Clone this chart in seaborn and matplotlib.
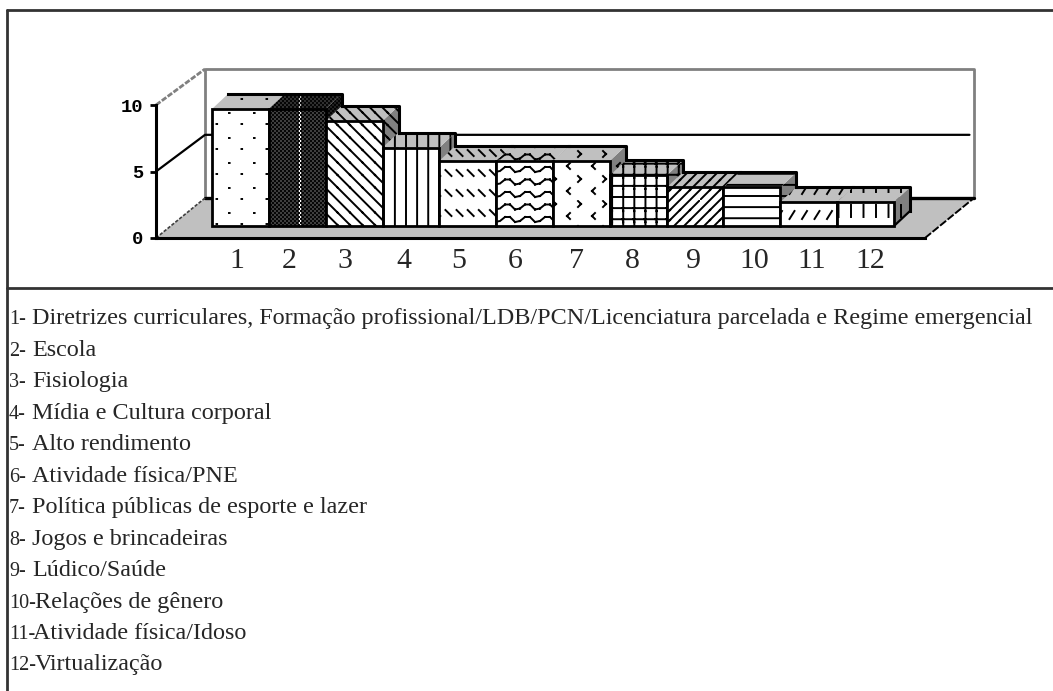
import numpy as np
import pandas as pd
import seaborn as sns
import matplotlib
matplotlib.use("Agg")
import matplotlib.pyplot as plt
from matplotlib import hatch as mhatch
from matplotlib.path import Path
import warnings

warnings.filterwarnings("ignore")

# --------------------------------------
# Data
# --------------------------------------
categories = ["1", "2", "3", "4", "5", "6", "7", "8", "9", "10", "11", "12"]
values = [8.8, 8.8, 7.9, 5.9, 4.9, 4.9, 4.9, 3.8, 2.9, 2.9, 1.8, 1.8]
y_ticks = [0, 5, 10]
legend_numbers = ["1-", "2-", "3-", "4-", "5-", "6-", "7-", "8-", "9-", "10-", "11-", "12-"]
legend_names = [
    "Diretrizes curriculares, Formação profissional/LDB/PCN/Licenciatura parcelada e Regime emergencial",
    "Escola",
    "Fisiologia",
    "Mídia e Cultura corporal",
    "Alto rendimento",
    "Atividade física/PNE",
    "Política públicas de esporte e lazer",
    "Jogos e brincadeiras",
    "Lúdico/Saúde",
    "Relações de gênero",
    "Atividade física/Idoso",
    "Virtualização",
]

# --------------------------------------
# Custom hatches (the old Excel fill patterns)
# tile sizes in pixels, must divide 100 because the hatch tile is 1 inch at dpi 100
# --------------------------------------
DOT = 0.6
TILES = {
    "a": (25, 25, [[(4, 12), (4 + DOT, 12)], [(16.5, 1), (16.5 + DOT, 1)]]),
    "b": (4, 4, [[(0.2, 1), (1.8, 1)], [(2.2, 3), (3.8, 3)]]),
    "c": (12.5, 12.5, [[(0, 12.5), (12.5, 0)]]),
    "d": (100 / 9, 100, [[(6, 0), (6, 100)]]),
    "e": (100 / 9, 20, [[(1, 10), (7, 4)]]),
    "f": (20, 12.5, [[(0, 4), (5, 8), (10, 8), (15, 3), (20, 4)]]),
    "g": (25, 25, [[(3, 24), (6, 21), (3, 18)], [(20, 12), (17, 9), (20, 6)]]),
    "h": (100 / 9, 100 / 9, [[(1, 0), (1, 100 / 9)], [(0, 3), (100 / 9, 3)]]),
    "i": (10, 10, [[(0, 0), (10, 10)]]),
    "j": (100, 100 / 9, [[(0, 4), (100, 4)]]),
    "k": (12.5, 25, [[(2, 6), (7, 14)]]),
    "l": (12.5, 25, [[(1, 8), (1, 20)]]),
}
bar_hatches = list("abcdefghijkl")


class TileHatch(mhatch.HatchPatternBase):
    def __init__(self, hatch, density):
        self.segs = []
        for ch in hatch:
            if ch not in TILES:
                continue
            w, h, lines = TILES[ch]
            for i in range(int(round(100 / w))):
                for j in range(int(round(100 / h))):
                    for line in lines:
                        for a, b in zip(line[:-1], line[1:]):
                            self.segs.append(((a[0] + i * w) / 100, (a[1] + j * h) / 100))
                            self.segs.append(((b[0] + i * w) / 100, (b[1] + j * h) / 100))
        self.num_vertices = len(self.segs)

    def set_vertices_and_codes(self, vertices, codes):
        vertices[:] = self.segs
        codes[0::2] = Path.MOVETO
        codes[1::2] = Path.LINETO


mhatch._hatch_types.append(TileHatch)

# --------------------------------------
# Layout
# --------------------------------------
W, H = 1053, 691
AX_L, AX_R, AX_T, AX_B = 156, 925, 105, 238   # pixels of the front axes
BAR_W = 56.8
PX_Y = (AX_B - AX_T) / 10
XMIN = -0.5 - (212 - AX_L) / BAR_W
XMAX = 11.5 + (AX_R - 894) / BAR_W
FLOOR_DX, FLOOR_DY = 49 / BAR_W, 40 / PX_Y     # depth of floor and walls
BAR_DX, BAR_DY = 16 / BAR_W, 15 / PX_Y         # depth of one bar
BAR_BASE = 12 / PX_Y                           # bars stand a little behind the front edge
WALL_TOP = 9.7
WALL_MID = 4.75
LIGHT = "#c0c0c0"
DARK = "#808080"
INK = "#262626"

sns.set_theme(style="white")
plt.rcParams["font.family"] = ["Liberation Serif", "DejaVu Serif"]
plt.rcParams["hatch.linewidth"] = 1.4
plt.rcParams["hatch.color"] = "black"

fig = plt.figure(figsize=(W / 100, H / 100), dpi=100)
ax = fig.add_axes([AX_L / W, 1 - AX_B / H, (AX_R - AX_L) / W, (AX_B - AX_T) / H])

df = pd.DataFrame({"cat": categories, "val": values})

# floor and walls
top = WALL_TOP + FLOOR_DY
mid = WALL_MID + FLOOR_DY
ax.fill([XMIN, XMIN + FLOOR_DX, XMAX + FLOOR_DX, XMAX], [0, FLOOR_DY, FLOOR_DY, 0],
        color=LIGHT, lw=0, zorder=1, clip_on=False)
ax.plot([XMIN + FLOOR_DX, XMIN + FLOOR_DX, XMAX + FLOOR_DX, XMAX + FLOOR_DX],
        [FLOOR_DY, top, top, FLOOR_DY], color=DARK, lw=2, zorder=1.2, clip_on=False)
ax.plot([XMIN + FLOOR_DX, XMAX + FLOOR_DX], [FLOOR_DY, FLOOR_DY], color="black", lw=2.4,
        zorder=1.3, clip_on=False)
ax.plot([XMIN, XMIN + FLOOR_DX], [10, top], color=DARK, lw=2, ls=(0, (2, 0.6)), zorder=1.1, clip_on=False)
ax.plot([XMIN, XMIN + FLOOR_DX, XMAX + FLOOR_DX - 0.08], [5, mid, mid],
        color="black", lw=1.6, zorder=1.3, clip_on=False)
ax.plot([XMIN, XMIN + FLOOR_DX], [0, FLOOR_DY], color="#404040", lw=1.2, ls=(0, (2, 1)), zorder=1.3, clip_on=False)
ax.plot([XMAX, XMAX + FLOOR_DX], [0, FLOOR_DY], color="black", lw=1.4, ls=(0, (4, 1)), zorder=1.3, clip_on=False)

# top and side faces, left to right
for i, v in enumerate(values):
    x0, x1 = i - 0.5, i + 0.5
    y0, y1 = BAR_BASE, BAR_BASE + v
    ax.fill([x1, x1 + BAR_DX, x1 + BAR_DX, x1], [y0, y0 + BAR_DY, y1 + BAR_DY, y1],
            facecolor=DARK, edgecolor="black", hatch=bar_hatches[i], lw=0, zorder=2, clip_on=False)
    ax.fill([x0, x0 + BAR_DX, x1 + BAR_DX, x1], [y1, y1 + BAR_DY, y1 + BAR_DY, y1],
            facecolor=LIGHT, edgecolor="black", hatch=bar_hatches[i], lw=0, zorder=2, clip_on=False)
    # back edge of the top, and the part of the right edge that the next bar does not hide
    next_top = BAR_BASE + values[i + 1] if i + 1 < len(values) else y0
    ax.plot([x0 + BAR_DX, x1 + BAR_DX, x1 + BAR_DX], [y1 + BAR_DY, y1 + BAR_DY, next_top + BAR_DY],
            color="black", lw=2.2, zorder=2.2, clip_on=False, solid_capstyle="projecting")

ax.plot([11.5, 11.5 + BAR_DX], [BAR_BASE, BAR_BASE + BAR_DY], color="black", lw=1.6, zorder=2.2, clip_on=False)

# front faces
sns.barplot(data=df, x="cat", y="val", order=categories, width=1.0, color="white",
            edgecolor="black", linewidth=2, saturation=1, bottom=BAR_BASE, ax=ax, zorder=3)
for patch, h in zip(ax.patches[-len(values):], bar_hatches):
    patch.set_hatch(h)
    patch.set_clip_on(False)

ax.set_xlim(XMIN, XMAX)
ax.set_ylim(0, 10)
ax.set_xlabel("")
ax.set_ylabel("")
ax.patch.set_alpha(0)
sns.despine(ax=ax)
for side in ["left", "bottom"]:
    ax.spines[side].set_linewidth(2.2)
    ax.spines[side].set_color("black")
    ax.spines[side].set_zorder(4)

# number labels are not quite centred under the bars in the original
nudge = np.array([-4, -8, -9, -7, -9, -9, -5, -6, -2, 2, 3, 5]) / BAR_W
ax.set_xticks(np.arange(len(categories)) + nudge)
ax.set_xticklabels(categories, fontsize=21.5, color=INK)
ax.tick_params(axis="x", length=0, pad=7)
ax.set_yticks(y_ticks)
ax.set_yticklabels([str(t) for t in y_ticks], family="Liberation Mono", fontweight="bold",
                   fontsize=13.5, color="black")
ax.tick_params(axis="y", left=True, length=4, width=2, color="black", pad=5)

# outer frame drawn in figure coordinates
frame = dict(color="#333333", lw=2, transform=fig.transFigure, clip_on=False)
fig.add_artist(plt.Line2D([7 / W, 7 / W], [0, 1 - 10 / H], **frame))
fig.add_artist(plt.Line2D([7 / W, 1], [1 - 10 / H, 1 - 10 / H], **frame))
fig.add_artist(plt.Line2D([7 / W, 1], [1 - 288 / H, 1 - 288 / H], **frame))

# legend text under the chart
for i, (num, name) in enumerate(zip(legend_numbers, legend_names)):
    y = 1 - (324.5 + i * 31.45) / H
    fig.text(9 / W, y, num, fontsize=14.5, color=INK, va="baseline")
    x_name = 32 if i < 9 else (33 if i == 10 else 35)
    fig.text(x_name / W, y, name, fontsize=17.4, color=INK, va="baseline")

fig.savefig("out.png", dpi=100)
